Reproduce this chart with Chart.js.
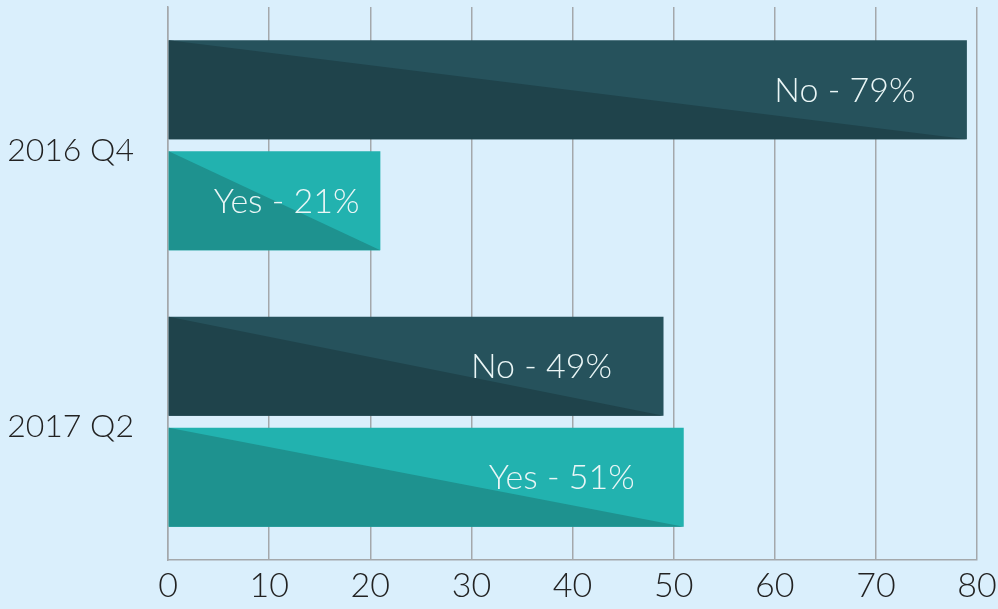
<!DOCTYPE html>
<html lang="en">
  <head>
    <meta charset="UTF-8">
    <script src="https://cdn.jsdelivr.net/npm/chart.js"></script>
    <style>
      html, body { margin: 0; padding: 0; background: #daeffc; }
      .chart-container { position: relative; width: 998px; height: 609px; }
    </style>
  </head>
  <body>
    <div class="chart-container">
      <canvas id="surveyChart" width="998" height="609"></canvas>
    </div>
    <script>
      // data
      const categories = ['2016 Q4', '2017 Q2'];
      const seriesNames = ['No', 'Yes'];
      const noValues = [79, 49];
      const yesValues = [21, 51];
      const xTicks = [0, 10, 20, 30, 40, 50, 60, 70, 80];

      const lightColors = ['#26525c', '#22b2af'];
      const darkColors = ['#1f434b', '#1e928f'];
      const fontFamily = "Lato, 'Open Sans', sans-serif";

      // darker triangle over the lower-left half of each bar + the label
      const diagonalShade = {
        id: 'diagonalShade',
        afterDatasetsDraw(chart) {
          const ctx = chart.ctx;
          chart.data.datasets.forEach((ds, di) => {
            const meta = chart.getDatasetMeta(di);
            meta.data.forEach((bar, i) => {
              const p = bar.getProps(['x', 'y', 'base', 'height'], true);
              const top = p.y - p.height / 2;
              const bottom = p.y + p.height / 2;
              ctx.save();
              ctx.fillStyle = darkColors[di];
              ctx.beginPath();
              ctx.moveTo(p.base, top);
              ctx.lineTo(p.x, bottom);
              ctx.lineTo(p.base, bottom);
              ctx.closePath();
              ctx.fill();

              const text = ds.label + ' - ' + ds.data[i] + '%';
              ctx.font = '300 34px ' + fontFamily;
              ctx.fillStyle = '#eaf6f6';
              ctx.textBaseline = 'middle';
              ctx.textAlign = 'center';
              const w = ctx.measureText(text).width;
              const cx = Math.max(p.x - 122, p.base + w / 2 + 45);
              ctx.fillText(text, cx, p.y + 1);
              ctx.restore();
            });
          });
        }
      };

      const ctx = document.getElementById('surveyChart').getContext('2d');
      new Chart(ctx, {
        type: 'bar',
        data: {
          labels: categories,
          datasets: [
            { label: seriesNames[0], data: noValues, backgroundColor: lightColors[0], borderWidth: 0 },
            { label: seriesNames[1], data: yesValues, backgroundColor: lightColors[1], borderWidth: 0 }
          ]
        },
        options: {
          indexAxis: 'y',
          responsive: false,
          animation: false,
          categoryPercentage: 0.803,
          barPercentage: 0.892,
          layout: { padding: { top: 7, right: 0, left: 0, bottom: 0 } },
          plugins: {
            legend: { display: false },
            tooltip: { enabled: false }
          },
          scales: {
            x: {
              min: 0,
              max: 80,
              afterBuildTicks(axis) { axis.ticks = xTicks.map(v => ({ value: v })); },
              afterFit(scale) {
                scale.height = 49;
                scale.paddingRight = 21;
              },
              grid: { color: '#a4a8ab', lineWidth: 1.5, drawTicks: false },
              border: { color: '#a4a8ab', width: 1.5 },
              ticks: { color: '#222', padding: 6, maxRotation: 0, font: { family: fontFamily, size: 34, weight: '300' } }
            },
            y: {
              afterFit(scale) {
                scale.width = 168;
                scale.paddingTop = 0;
                scale.paddingBottom = 0;
              },
              grid: { display: false, drawTicks: false },
              border: { color: '#a4a8ab', width: 1.5 },
              ticks: { color: '#222', padding: 34, labelOffset: 5, font: { family: fontFamily, size: 32, weight: '300' } }
            }
          }
        },
        plugins: [diagonalShade]
      });
    </script>
  </body>
</html>
